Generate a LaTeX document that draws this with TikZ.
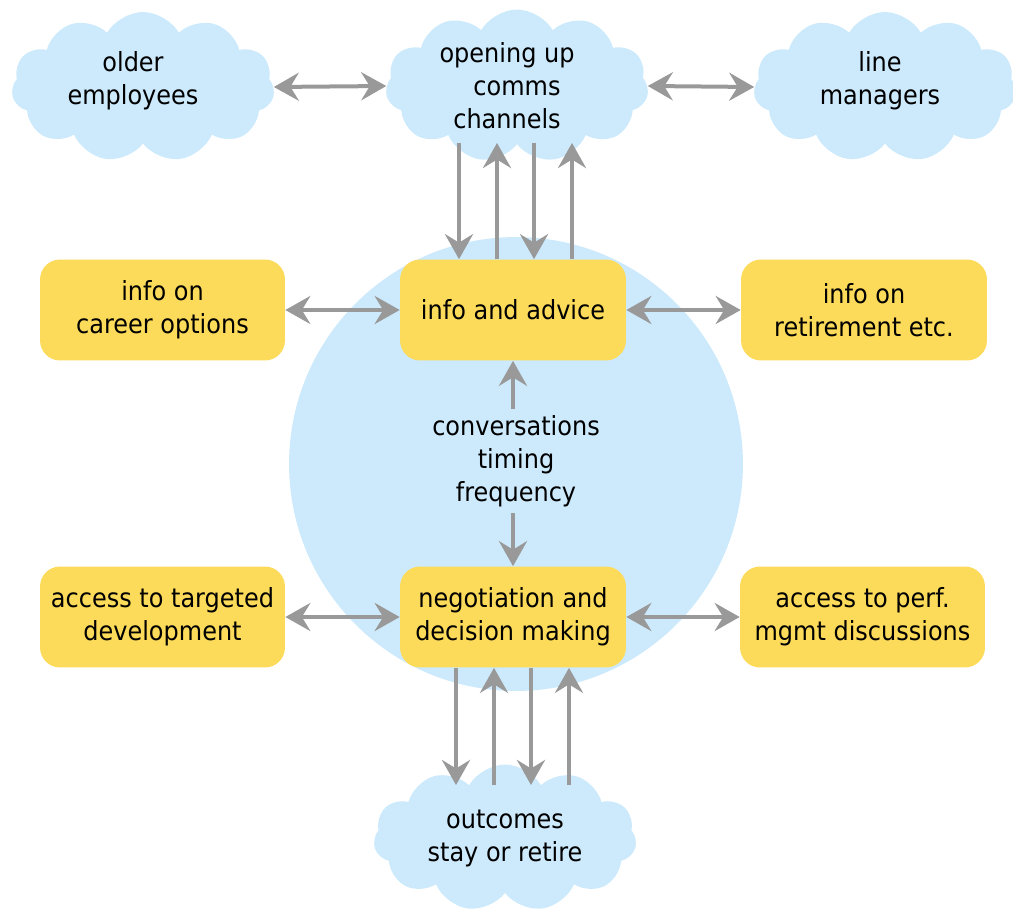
\documentclass[tikz,border=0pt]{standalone}
\usepackage{fontspec}
\setmainfont{DejaVu Sans}[FakeStretch=0.91]
\usetikzlibrary{arrows.meta,shapes.symbols}
\definecolor{skyfill}{HTML}{CCEAFC}
\definecolor{boxfill}{HTML}{FDDB5A}
\definecolor{linkgray}{HTML}{999999}
\begin{document}
\begin{tikzpicture}[x=0.02cm,y=-0.02cm,
  every node/.style={font=\fontsize{15}{18.8}\selectfont, align=center, text=black},
  puff/.style={cloud, cloud puffs=11, cloud puff arc=120, cloud ignores aspect,
    fill=skyfill, draw=none, minimum width=5.26cm, minimum height=3cm, inner sep=0pt},
  card/.style={rounded corners=0.4cm, fill=boxfill, draw=none,
    minimum height=2.02cm, inner sep=0pt},
  link/.style={draw=linkgray, line width=0.08cm, -{Stealth[length=0.5cm,width=0.56cm,inset=0.17cm]}},
  twoway/.style={draw=linkgray, line width=0.08cm,
    {Stealth[length=0.5cm,width=0.56cm,inset=0.17cm]}-{Stealth[length=0.5cm,width=0.56cm,inset=0.17cm]}}
]
\useasboundingbox (0,0) rectangle (1013,912);

% central disc
\node[circle, fill=skyfill, minimum size=9.08cm, inner sep=0pt] (hub) at (516,464) {};

% clouds (the trailing spaces and struts nudge the text up and to the left)
\node[puff] (older) at (143,87)
  {older\hspace*{0.4cm}\\employees\hspace*{0.4cm}\rule[-0.36cm]{0pt}{0pt}};
\node[puff] (comms) at (517,86)
  {opening up\hspace*{0.4cm}\\comms\hspace*{0.4cm}\\channels\hspace*{0.4cm}};
\node[puff] (lineman) at (885,87)
  {line\hspace*{0.2cm}\\managers\hspace*{0.2cm}\rule[-0.36cm]{0pt}{0pt}};
\node[puff, minimum height=2.94cm] (outcome) at (505,838) {outcomes\\stay or retire};

% boxes
\node[card, minimum width=4.9cm] (career) at (162.5,310) {info on\\career options};
\node[card, minimum width=4.52cm] (info) at (513,310) {info and advice};
\node[card, minimum width=4.92cm] (retire) at (864,310) {info on\\retirement etc.};
\node[card, minimum width=4.9cm] (develop) at (162.5,617) {access to targeted\\development};
\node[card, minimum width=4.52cm] (negot) at (513,617) {negotiation and\\decision making};
\node[card, minimum width=4.9cm] (perf) at (862.5,617) {access to perf.\\mgmt discussions};

% centre text
\node (talk) at (516,461) {conversations\\timing\\frequency};

% horizontal two-way links
\draw[twoway] (older.east) -- (comms.west);
\draw[twoway] (comms.east) -- (lineman.west);
\draw[twoway] (career.east) -- (info.west);
\draw[twoway] (info.east) -- (retire.west);
\draw[twoway] (develop.east) -- (negot.west);
\draw[twoway] (negot.east) -- (perf.west);

% links between comms cloud and info box
\coordinate (ta) at (459,143);
\coordinate (tb) at (497,143);
\coordinate (tc) at (534,143);
\coordinate (td) at (572,143);
\draw[link] (ta) -- (ta |- info.north);
\draw[link] (info.north -| tb) -- (tb);
\draw[link] (tc) -- (tc |- info.north);
\draw[link] (info.north -| td) -- (td);

% centre links
\draw[link] (info.south |- talk.north) -- (info.south);
\draw[link] (negot.north |- talk.south) -- (negot.north);

% links between negotiation box and outcomes cloud
\coordinate (ba) at (456,785);
\coordinate (bb) at (494,785);
\coordinate (bc) at (531,785);
\coordinate (bd) at (569,785);
\draw[link] (negot.south -| ba) -- (ba);
\draw[link] (bb) -- (bb |- negot.south);
\draw[link] (negot.south -| bc) -- (bc);
\draw[link] (bd) -- (bd |- negot.south);
\end{tikzpicture}
\end{document}
